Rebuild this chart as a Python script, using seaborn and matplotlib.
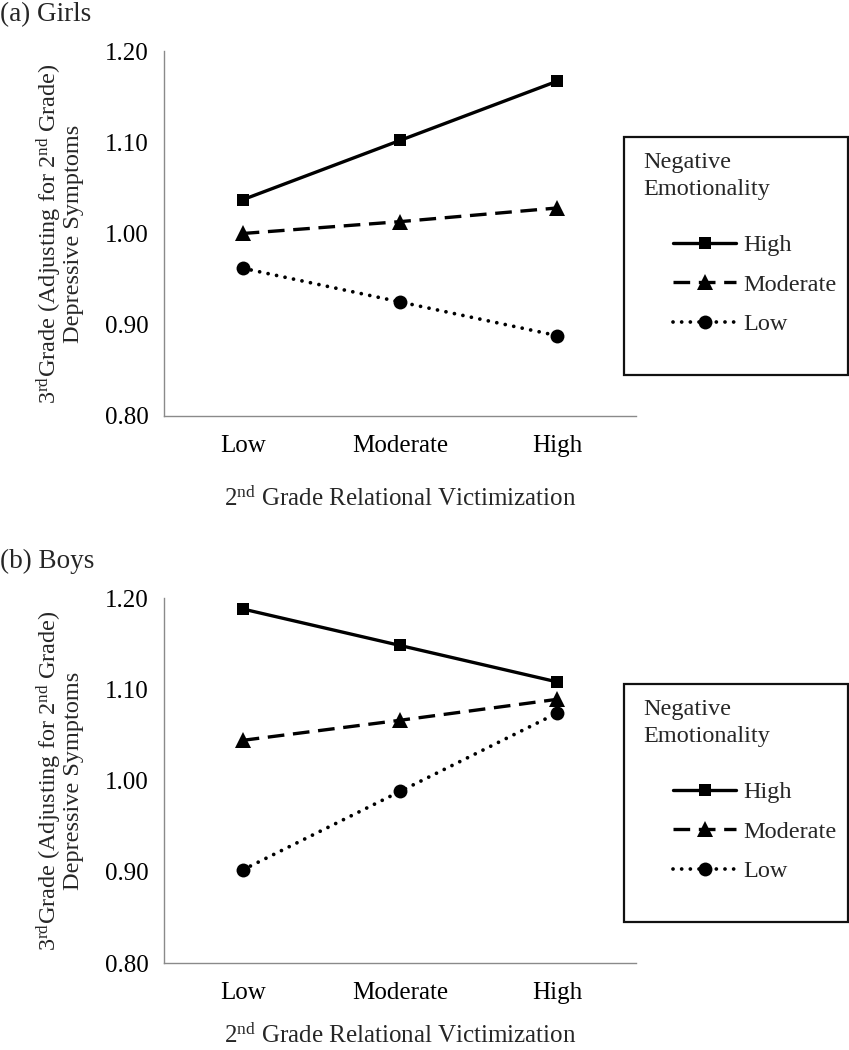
import pandas as pd
import matplotlib
matplotlib.use('Agg')
import matplotlib.pyplot as plt
from matplotlib.patches import Rectangle
import seaborn as sns

# Data
levels = ['Low', 'Moderate', 'High']
emotion_labels = ['High', 'Moderate', 'Low']

girls_high = [1.037, 1.102, 1.167]
girls_moderate = [1.000, 1.013, 1.028]
girls_low = [0.962, 0.925, 0.888]

boys_high = [1.188, 1.148, 1.108]
boys_moderate = [1.044, 1.066, 1.089]
boys_low = [0.902, 0.988, 1.074]

y_ticks = [0.80, 0.90, 1.00, 1.10, 1.20]

panels = [
    ('(a) Girls', [girls_high, girls_moderate, girls_low]),
    ('(b) Boys', [boys_high, boys_moderate, boys_low]),
]

# Styles for each emotionality level
styles = [
    dict(marker='s', markersize=9, linestyle='-', linewidth=2.4),
    dict(marker='^', markersize=11, linestyle=(0, (5.0, 2.6)), linewidth=2.4),
    dict(marker='o', markersize=10, linestyle=(0, (0.01, 2.3)), linewidth=2.7,
         dash_capstyle='round'),
]

sns.set_style('white')
plt.rcParams['font.family'] = ['Liberation Serif', 'DejaVu Serif']
plt.rcParams['mathtext.fontset'] = 'custom'
plt.rcParams['mathtext.rm'] = 'Liberation Serif'
plt.rcParams['mathtext.it'] = 'Liberation Serif:italic'

W, H = 849, 1050
fig = plt.figure(figsize=(W / 100, H / 100), dpi=100)

spine_color = '#8a8a8a'
offset = 547
fs = 18

for i, (title, series) in enumerate(panels):
    dy = i * offset
    ax = fig.add_axes([164 / W, 1 - (416 + dy) / H, 472 / W, 365 / H])

    for vals, lab, st in zip(series, emotion_labels, styles):
        df = pd.DataFrame({'victimization': levels, 'value': vals})
        sns.lineplot(data=df, x='victimization', y='value', ax=ax, sort=False,
                     color='black', markerfacecolor='black', markeredgecolor='black',
                     markeredgewidth=0, label=lab, legend=False, **st)

    ax.set_xlim(-0.5, 2.5)
    ax.set_ylim(0.80, 1.20)
    ax.set_yticks(y_ticks)
    ax.set_yticklabels([f'{v:.2f}' for v in y_ticks])
    ax.set_xticks([0, 1, 2])
    ax.set_xticklabels(levels)
    ax.set_xticks([-0.5, 0.5, 1.5, 2.5], minor=True)

    for s in ['top', 'right']:
        ax.spines[s].set_visible(False)
    for s in ['left', 'bottom']:
        ax.spines[s].set_color(spine_color)
        ax.spines[s].set_linewidth(1.0)

    ax.tick_params(axis='x', which='major', length=0, pad=14, labelsize=fs, colors='black')
    ax.tick_params(axis='x', which='minor', length=7, width=1.0, color=spine_color, direction='out')
    ax.tick_params(axis='y', which='major', length=7, width=1.0, color=spine_color,
                   direction='out', pad=4, labelsize=fs, labelcolor='black')

    ax.set_xlabel('2$^{\\mathrm{nd}}$ Grade Relational Victimization', fontsize=fs,
                  labelpad=21 if i == 0 else 14)
    ax.set_ylabel('3$^{\\mathrm{rd}}$Grade (Adjusting for 2$^{\\mathrm{nd}}$ Grade)\nDepressive Symptoms',
                  fontsize=17.5, linespacing=0.95)
    ax.yaxis.set_label_coords((84 - 164) / 472, 0.5)

    fig.text(0.0, 1 - (2 + dy) / H, title, fontsize=19.5, va='top', ha='left')

    # legend box
    fig.patches.append(Rectangle((624 / W, 1 - (375 + dy) / H), 224 / W, 238 / H,
                                 transform=fig.transFigure, fill=False,
                                 edgecolor='#111111', linewidth=1.6))
    fig.text(643 / W, 1 - (152 + dy) / H, 'Negative\nEmotionality', fontsize=17.5,
             va='top', ha='left', linespacing=1.35)
    handles = ax.get_lines()[:3]
    ax.legend(handles=handles, labels=emotion_labels, loc='upper left',
              bbox_to_anchor=(673 / W, 1 - (234 + dy) / H),
              bbox_transform=fig.transFigure, frameon=False, fontsize=17.5,
              handlelength=2.6, handletextpad=0.3, borderpad=0, borderaxespad=0,
              labelspacing=0.72, markerscale=1.0)

fig.savefig('out.png', dpi=100)
